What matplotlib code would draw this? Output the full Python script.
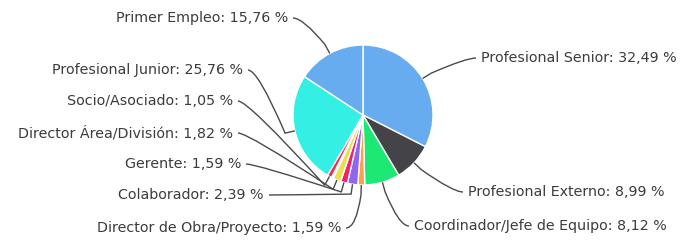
import numpy as np
import matplotlib.pyplot as plt
from matplotlib.path import Path
from matplotlib.patches import PathPatch

# Datos (en el orden de la tarta, sentido horario desde arriba)
categorias = ['Profesional Senior', 'Profesional Externo', 'Coordinador/Jefe de Equipo',
              'Director de Obra/Proyecto', 'Colaborador', 'Gerente',
              'Director Área/División', '', 'Socio/Asociado',
              'Profesional Junior', 'Primer Empleo']
porcentajes = [32.49, 8.99, 8.12, 1.59, 2.39, 1.59, 1.82, 0.44, 1.05, 25.76, 15.76]
colores = ['#68acf0', '#434348', '#1ee874', '#f5a352', '#9066ee', '#f0206c',
           '#e6e052', '#f6eaa8', '#ec2c4c', '#34efe4', '#68acf0']

# posiciones de las etiquetas (pixeles, y desde arriba) y lado
etiqueta_pos = [(481, 58), (468, 192), (414, 226), (341, 228), (264, 195), (241, 164),
                (233, 133), None, (233, 101), (243, 70), (288, 18)]
lado = ['der', 'der', 'der', 'izq', 'izq', 'izq', 'izq', None, 'izq', 'izq', 'izq']

W, H = 684, 240
cx, cy, r = 363, 115, 70

fig = plt.figure(figsize=(W / 100, H / 100), dpi=100)
ax = fig.add_axes([0, 0, 1, 1])
ax.pie(porcentajes, colors=colores, startangle=90, counterclock=False,
       center=(cx, H - cy), radius=r,
       wedgeprops=dict(edgecolor='white', linewidth=1))
ax.set_xlim(0, W)
ax.set_ylim(0, H)
ax.set_aspect('auto')
ax.axis('off')

total = sum(porcentajes)
acum = np.cumsum([0] + porcentajes)
for i, nombre in enumerate(categorias):
    if not nombre:
        continue
    mid = (acum[i] + acum[i + 1]) / 2 / total * 2 * np.pi
    px = cx + r * np.sin(mid)
    py = cy - r * np.cos(mid)
    lx, ly = etiqueta_pos[i]
    texto = f'{nombre}: {porcentajes[i]:.2f} %'.replace('.', ',')
    if lado[i] == 'der':
        ax.text(lx, H - ly, texto, ha='left', va='center', fontsize=10.3, color='#3c3c3c')
        a = (lx - 5, ly)
        k = (lx - 15, ly)
    else:
        ax.text(lx, H - ly, texto, ha='right', va='center', fontsize=10.3, color='#3c3c3c')
        a = (lx + 5, ly)
        k = (lx + 15, ly)
    # punto de quiebre cerca del borde
    bx = cx + (r + 10) * np.sin(mid)
    by = cy - (r + 10) * np.cos(mid)
    verts = [(a[0], H - a[1]), (k[0], H - k[1]), (bx, H - by), (px, H - py)]
    codes = [Path.MOVETO, Path.CURVE3, Path.CURVE3, Path.LINETO]
    ax.add_patch(PathPatch(Path(verts, codes), fill=False, edgecolor='#4a4a4a', lw=1))

fig.savefig('out.png', dpi=100)
